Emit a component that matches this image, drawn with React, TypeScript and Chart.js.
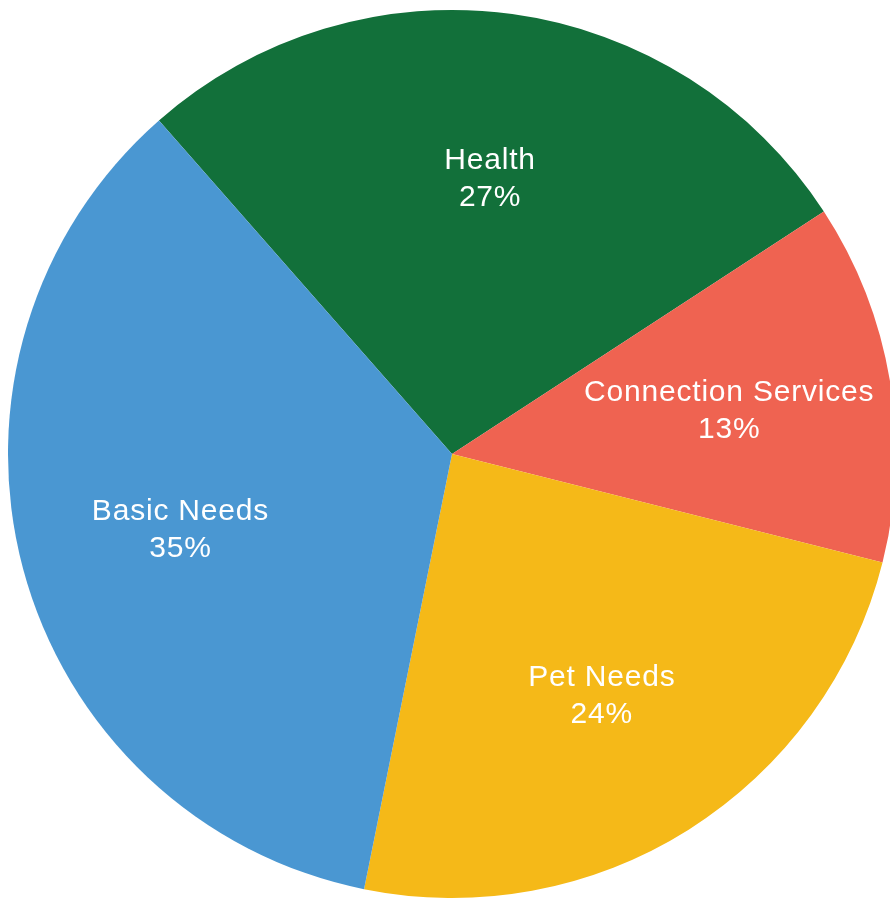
import React, { useEffect, useRef } from "react";
import { Chart, registerables } from "chart.js";

Chart.register(...registerables);

const categories = ["Health", "Connection Services", "Pet Needs", "Basic Needs"];
const values = [27, 13, 24, 35];
const percentLabels = ["27%", "13%", "24%", "35%"];
const colors = ["#12703A", "#EF6351", "#F5B918", "#4A97D2"];

const labelPlugin = {
  id: "sliceLabels",
  afterDatasetsDraw(chart: any) {
    const ctx = chart.ctx;
    const meta = chart.getDatasetMeta(0);
    ctx.save();
    ctx.fillStyle = "#FFFFFF";
    ctx.font = "30px 'Liberation Sans', Arial, sans-serif";
    ctx.textAlign = "center";
    ctx.textBaseline = "middle";
    try { (ctx as any).letterSpacing = "0.8px"; } catch (e) {}
    meta.data.forEach((arc: any, i: number) => {
      const p = arc.getProps(["x", "y", "startAngle", "endAngle", "outerRadius"], true);
      const mid = (p.startAngle + p.endAngle) / 2;
      const r = p.outerRadius * 0.633;
      const cx = p.x + Math.cos(mid) * r;
      const cy = p.y + Math.sin(mid) * r + 4;
      ctx.fillText(categories[i], cx, cy - 18.5);
      ctx.fillText(percentLabels[i], cx, cy + 18.5);
    });
    ctx.restore();
  },
};

export default function App() {
  const ref = useRef<HTMLCanvasElement>(null);
  useEffect(() => {
    if (!ref.current) return;
    const chart = new Chart(ref.current, {
      type: "pie",
      data: {
        labels: categories,
        datasets: [
          {
            data: values,
            backgroundColor: colors,
            borderWidth: 0,
          },
        ],
      },
      options: {
        responsive: false,
        animation: false,
        rotation: -41.3,
        layout: { padding: { left: 8, right: 8, top: 10, bottom: 10 } },
        plugins: {
          legend: { display: false },
          tooltip: { enabled: false },
        },
      },
      plugins: [labelPlugin],
    });
    return () => chart.destroy();
  }, []);
  return (
    <div
      style={{
        position: "absolute",
        left: 0,
        top: 0,
        width: 890,
        height: 901,
        overflow: "hidden",
        background: "#FFFFFF",
      }}
    >
      <canvas ref={ref} width={904} height={908} style={{ display: "block" }} />
    </div>
  );
}
